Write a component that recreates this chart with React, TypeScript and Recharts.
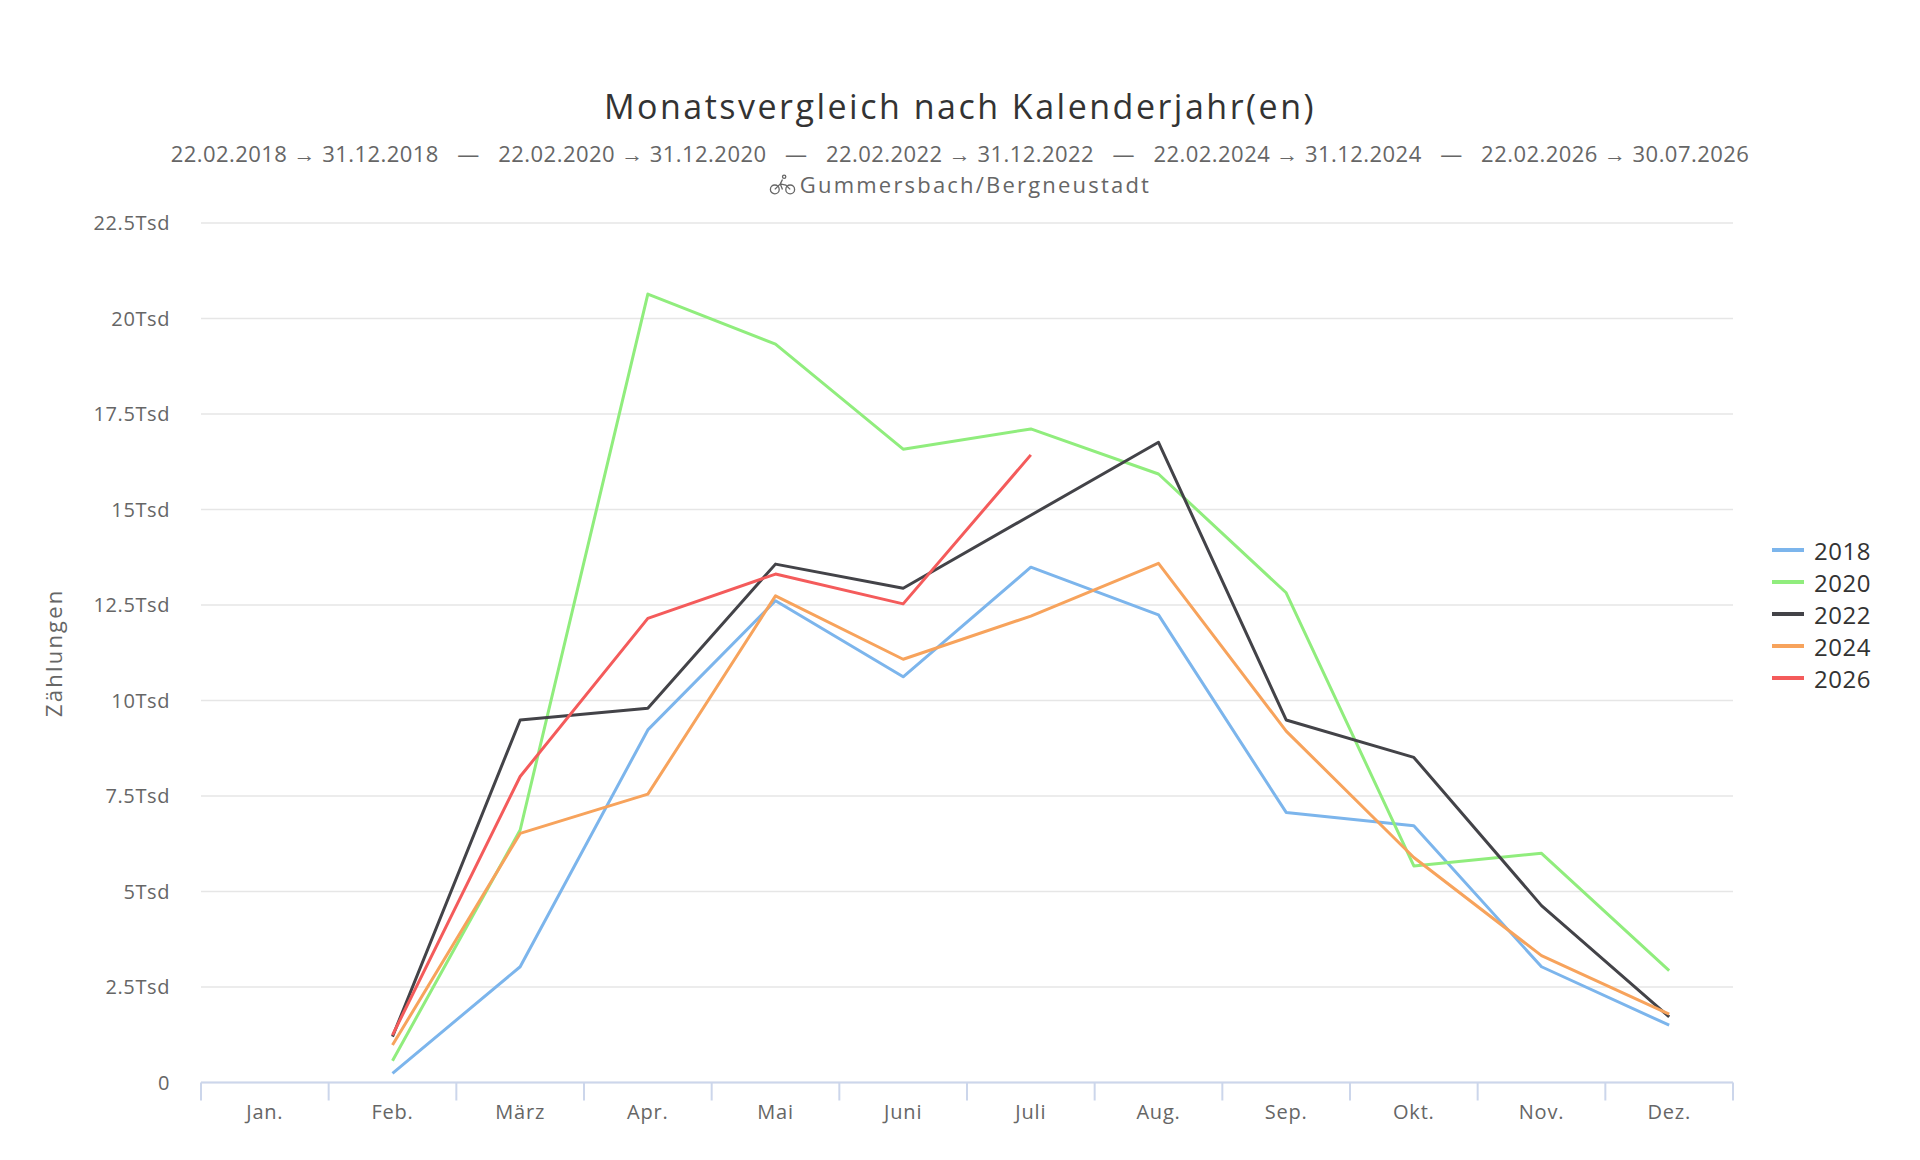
import React from "react";
import { LineChart, Line, XAxis, YAxis, CartesianGrid, Legend } from "recharts";

const FONT = "'Open Sans', 'Noto Sans', sans-serif";

const months = ["Jan.", "Feb.", "März", "Apr.", "Mai", "Juni", "Juli", "Aug.", "Sep.", "Okt.", "Nov.", "Dez."];

// monthly counts per calendar year (null = no data)
const y2018 = [null, 240, 3030, 9230, 12610, 10620, 13490, 12240, 7070, 6720, 3030, 1500];
const y2020 = [null, 570, 6610, 20640, 19330, 16580, 17110, 15930, 12820, 5670, 6000, 2930];
const y2022 = [null, 1200, 9490, 9800, 13570, 12940, 14850, 16760, 9490, 8510, 4630, 1720];
const y2024 = [null, 980, 6520, 7550, 12740, 11080, 12210, 13590, 9200, 5890, 3320, 1790];
const y2026 = [null, 1240, 8010, 12150, 13310, 12530, 16430, null, null, null, null, null];

const yTicks = [0, 2500, 5000, 7500, 10000, 12500, 15000, 17500, 20000, 22500];

const series = [
  { key: "y2018", name: "2018", color: "#7cb5ec", values: y2018 },
  { key: "y2020", name: "2020", color: "#90ed7d", values: y2020 },
  { key: "y2022", name: "2022", color: "#434348", values: y2022 },
  { key: "y2024", name: "2024", color: "#f7a35c", values: y2024 },
  { key: "y2026", name: "2026", color: "#f45b5b", values: y2026 },
];

const subtitleRanges = [
  "22.02.2018 → 31.12.2018",
  "22.02.2020 → 31.12.2020",
  "22.02.2022 → 31.12.2022",
  "22.02.2024 → 31.12.2024",
  "22.02.2026 → 30.07.2026",
];

const rows = months.map((m, i) => {
  const r: any = { month: m };
  series.forEach((s) => (r[s.key] = s.values[i]));
  return r;
});

const TICK_MARGIN = 22;
const TICK_LEN = 18;

function fmtTsd(v: number) {
  if (v === 0) return "0";
  return `${v / 1000}Tsd`;
}

// month label centred in its band, with tick marks on the band edges (tickmarks "between")
function MonthTick(props: any) {
  const { x, y, payload, index, visibleTicksCount, width } = props;
  const n = visibleTicksCount || months.length;
  const band = (width || 1532) / n;
  const axisY = y - TICK_MARGIN;
  const left = x - band / 2;
  return (
    <g>
      <line x1={left} x2={left} y1={axisY} y2={axisY + TICK_LEN} stroke="#ccd6eb" strokeWidth={2} />
      {index === n - 1 && (
        <line x1={left + band} x2={left + band} y1={axisY} y2={axisY + TICK_LEN} stroke="#ccd6eb" strokeWidth={2} />
      )}
      <text x={x} y={y} dy="0.71em" textAnchor="middle" fill="#666666" fontSize={20} fontFamily={FONT} letterSpacing={0.8}>
        {payload.value}
      </text>
    </g>
  );
}

function LegendContent({ payload }: any) {
  return (
    <div style={{ fontFamily: FONT }}>
      {(payload || []).map((p: any) => (
        <div key={p.value} style={{ display: "flex", alignItems: "center", height: 32 }}>
          <span style={{ display: "inline-block", width: 32, height: 4, background: p.color, marginRight: 10 }} />
          <span style={{ fontSize: 24, color: "#333333", letterSpacing: 0.5 }}>{p.value}</span>
        </div>
      ))}
    </div>
  );
}

function BikeIcon() {
  return (
    <svg width="27" height="22" viewBox="0 0 24 20" style={{ verticalAlign: "-3px", marginRight: 4 }}>
      <g fill="none" stroke="#666" strokeWidth="1.2">
        <circle cx="5" cy="14" r="4" />
        <circle cx="19" cy="14" r="4" />
        <path d="M5 14 L10 9 L15 10 L19 14 M10 9 L12 14 M12 5 L10 9" />
        <circle cx="13.5" cy="2.5" r="1.5" />
      </g>
    </svg>
  );
}

export default function App() {
  return (
    <div style={{ position: "absolute", left: 0, top: 0, width: 1920, height: 1160, background: "#fff", fontFamily: FONT }}>
      <div style={{ position: "absolute", top: 86, width: 1920, textAlign: "center", fontSize: 34, lineHeight: "40px", color: "#333333", letterSpacing: 2.5 }}>
        Monatsvergleich nach Kalenderjahr(en)
      </div>
      <div style={{ position: "absolute", top: 138, width: 1920, textAlign: "center", fontSize: 22, lineHeight: "30px", color: "#666666", whiteSpace: "pre", letterSpacing: 0.45 }}>
        {subtitleRanges.join("   —   ")}
      </div>
      <div style={{ position: "absolute", top: 169, width: 1920, textAlign: "center", fontSize: 22, lineHeight: "30px", color: "#666666", letterSpacing: 2.2 }}>
        <BikeIcon />
        Gummersbach/Bergneustadt
      </div>
      <div style={{ position: "absolute", left: 0, top: 0 }}>
        <LineChart width={1920} height={1160} data={rows} margin={{ top: 223, right: 187, bottom: 0, left: 0 }}>
          <CartesianGrid vertical={false} stroke="#e6e6e6" strokeWidth={1.5} />
          <XAxis
            dataKey="month"
            scale="band"
            interval={0}
            height={77.5}
            axisLine={{ stroke: "#ccd6eb", strokeWidth: 2 }}
            tickLine={false}
            tickSize={0}
            tickMargin={TICK_MARGIN}
            tick={<MonthTick />}
          />
          <YAxis
            width={201}
            domain={[0, 22500]}
            ticks={yTicks}
            interval={0}
            tickFormatter={fmtTsd}
            axisLine={false}
            tickLine={false}
            tickSize={0}
            tickMargin={31}
            tick={{ fill: "#666666", fontSize: 20, fontFamily: FONT, letterSpacing: 0.6 }}
            label={{
              content: ({ viewBox }: any) => {
                const cy = viewBox.y + viewBox.height / 2;
                return (
                  <text x={53} y={cy} transform={`rotate(-90 53 ${cy})`} textAnchor="middle" dominantBaseline="central" fill="#666666" fontSize={22} fontFamily={FONT} letterSpacing={2.2}>
                    Zählungen
                  </text>
                );
              },
            }}
          />
          <Legend layout="vertical" align="center" verticalAlign="middle" content={<LegendContent />} wrapperStyle={{ left: 1772, top: 534, width: "auto", height: "auto" }} />
          {series.map((s) => (
            <Line
              key={s.key}
              dataKey={s.key}
              name={s.name}
              stroke={s.color}
              strokeWidth={3}
              strokeLinejoin="round"
              dot={false}
              activeDot={false}
              isAnimationActive={false}
            />
          ))}
        </LineChart>
      </div>
    </div>
  );
}
